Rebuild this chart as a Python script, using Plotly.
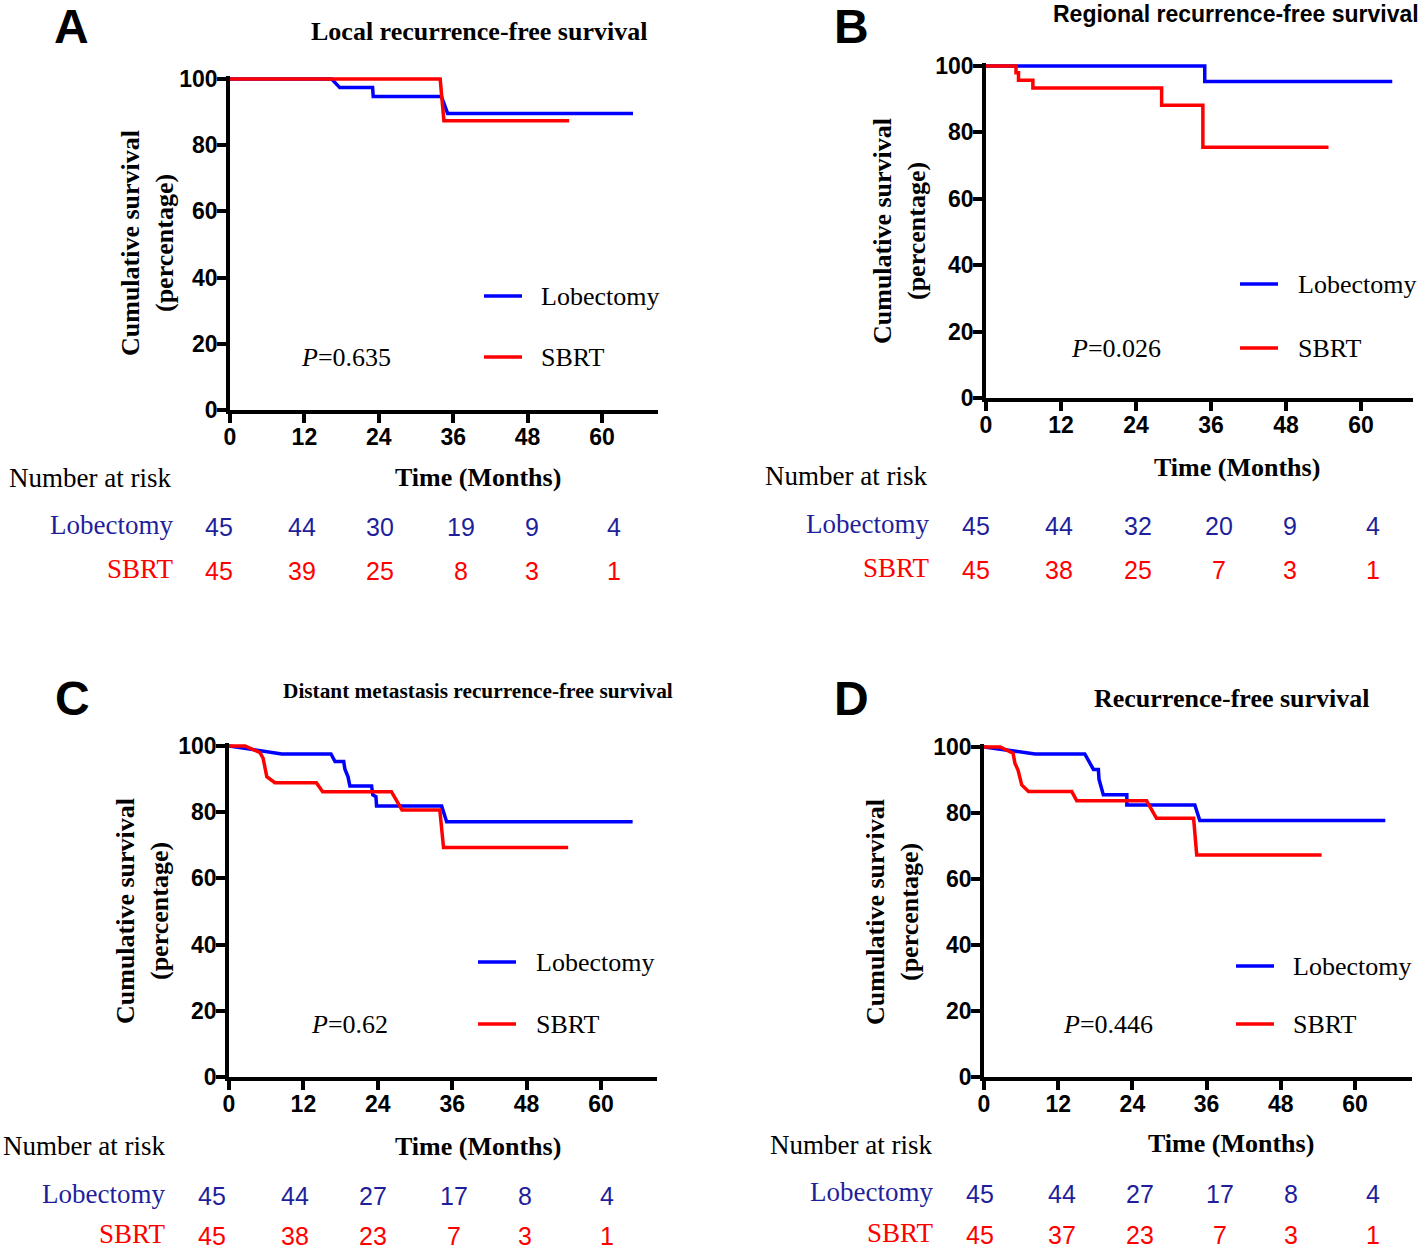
import plotly.graph_objects as go

W, H = 1418, 1251

# ---------------- DATA ----------------
panel_letters = ["A", "B", "C", "D"]
panel_titles = [
    "Local recurrence-free survival",
    "Regional recurrence-free survival",
    "Distant metastasis recurrence-free survival",
    "Recurrence-free survival",
]
p_values = ["0.635", "0.026", "0.62", "0.446"]
series_names = ["Lobectomy", "SBRT"]
x_ticks = [0, 12, 24, 36, 48, 60]
y_ticks = [0, 20, 40, 60, 80, 100]

# Kaplan-Meier curve vertices (months, % survival)
a_lob_t = [0, 16.4, 17.7, 23.0, 23.1, 34.1, 35.1, 65.0]
a_lob_s = [100, 100, 97.4, 97.4, 94.7, 94.7, 89.6, 89.6]
a_sbrt_t = [0, 33.9, 34.5, 54.7]
a_sbrt_s = [100, 100, 87.4, 87.4]

b_lob_t = [0, 35.0, 35.0, 65.0]
b_lob_s = [100, 100, 95.3, 95.3]
b_sbrt_t = [0, 4.8, 4.8, 5.2, 5.2, 7.5, 7.5, 28.1, 28.1, 34.7, 34.7, 54.8]
b_sbrt_s = [100, 100, 98.0, 98.0, 95.7, 95.7, 93.4, 93.4, 88.2, 88.2, 75.5, 75.5]

c_lob_t = [0, 8.5, 16.45, 17.1, 18.5, 18.7, 19.2, 19.5, 23.0, 23.2, 23.7, 23.8, 34.3, 35.1, 65.1]
c_lob_s = [100, 97.6, 97.6, 95.3, 95.3, 93.0, 90.7, 87.9, 87.9, 85.2, 84.7, 81.9, 81.9, 77.1, 77.1]
c_sbrt_t = [0, 2.6, 5.0, 5.5, 6.1, 7.4, 14.1, 15.1, 26.2, 27.9, 34.0, 34.6, 54.7]
c_sbrt_s = [100, 100, 98.0, 96.3, 90.7, 88.9, 88.9, 86.2, 86.2, 80.7, 80.7, 69.3, 69.3]

d_lob_t = [0, 8.25, 16.3, 17.7, 18.5, 18.6, 19.3, 23.1, 23.1, 34.1, 34.9, 64.9]
d_lob_s = [100, 97.9, 97.9, 93.2, 93.2, 90.2, 85.5, 85.5, 82.4, 82.4, 77.7, 77.7]
d_sbrt_t = [0, 2.6, 4.7, 5.0, 5.5, 6.1, 7.2, 14.2, 15.0, 26.3, 27.9, 33.9, 34.4, 54.6]
d_sbrt_s = [100, 100, 98.1, 95.1, 93.0, 88.5, 86.5, 86.5, 83.7, 83.7, 78.4, 78.4, 67.3, 67.3]

# Numbers at risk
a_risk_lob = [45, 44, 30, 19, 9, 4]
a_risk_sbrt = [45, 39, 25, 8, 3, 1]
b_risk_lob = [45, 44, 32, 20, 9, 4]
b_risk_sbrt = [45, 38, 25, 7, 3, 1]
c_risk_lob = [45, 44, 27, 17, 8, 4]
c_risk_sbrt = [45, 38, 23, 7, 3, 1]
d_risk_lob = [45, 44, 27, 17, 8, 4]
d_risk_sbrt = [45, 37, 23, 7, 3, 1]

curves = [
    ((a_lob_t, a_lob_s), (a_sbrt_t, a_sbrt_s)),
    ((b_lob_t, b_lob_s), (b_sbrt_t, b_sbrt_s)),
    ((c_lob_t, c_lob_s), (c_sbrt_t, c_sbrt_s)),
    ((d_lob_t, d_lob_s), (d_sbrt_t, d_sbrt_s)),
]
risks = [
    (a_risk_lob, a_risk_sbrt),
    (b_risk_lob, b_risk_sbrt),
    (c_risk_lob, c_risk_sbrt),
    (d_risk_lob, d_risk_sbrt),
]

# ---------------- LAYOUT (pixel geometry) ----------------
LOB_COLOR = "#0000ff"
SBRT_COLOR = "#ff0000"
LOB_TEXT = "#1f1f9c"
SERIF = "Liberation Serif"
SANS = "Liberation Sans"

geom = [
    dict(x0=230, x60=602, xend=658, ytop=79, ybot=410,
         letter=(71, 26), title=(479, 31, SERIF, 26),
         ytitle=(147, 243), xtitle=(478, 478),
         leg=(484, 522, 296, 357, 540), p=(300, 357),
         risk_hdr=(172, 478), risk_lbl=174, rows=(527, 571),
         cols=[219, 302, 380, 461, 532, 614]),
    dict(x0=986, x60=1361, xend=1413, ytop=66, ybot=398,
         letter=(852, 26), title=(1236, 14, SANS, 23),
         ytitle=(900, 231), xtitle=(1237, 467),
         leg=(1240, 1278, 284, 348, 1297), p=(1070, 348),
         risk_hdr=(928, 476), risk_lbl=930, rows=(526, 570),
         cols=[976, 1059, 1138, 1219, 1290, 1373]),
    dict(x0=229, x60=601, xend=657, ytop=746, ybot=1077,
         letter=(72, 698), title=(478, 691, SERIF, 21.3),
         ytitle=(143, 911), xtitle=(478, 1146),
         leg=(478, 516, 962, 1024, 535), p=(310, 1024),
         risk_hdr=(166, 1146), risk_lbl=166, rows=(1196, 1236),
         cols=[212, 295, 373, 454, 525, 607]),
    dict(x0=984, x60=1355, xend=1412, ytop=747, ybot=1077,
         letter=(852, 698), title=(1232, 698, SERIF, 26),
         ytitle=(892, 912), xtitle=(1231, 1143),
         leg=(1236, 1274, 966, 1024, 1292), p=(1062, 1024),
         risk_hdr=(933, 1145), risk_lbl=934, rows=(1194, 1235),
         cols=[980, 1062, 1140, 1220, 1291, 1373]),
]


def fx(x):
    return x / W


def fy(y):
    return 1 - y / H


def note(text, x, y, size, family=SERIF, color="black", xanchor="center", angle=0):
    return dict(text=text, x=fx(x), y=fy(y), xref="paper", yref="paper",
                showarrow=False, xanchor=xanchor, yanchor="middle", borderpad=0,
                textangle=angle, font=dict(family=family, size=size, color=color))


fig = go.Figure()
layout = dict(width=W, height=H,
              margin=dict(l=0, r=0, t=0, b=0, pad=0, autoexpand=False),
              plot_bgcolor="white", paper_bgcolor="white", showlegend=False)
annotations = []
shapes = []

YEXTRA = 0.9  # small headroom so the 100% line is not clipped

for i, g in enumerate(geom):
    n = "" if i == 0 else str(i + 1)
    xa, ya = "xaxis" + n, "yaxis" + n
    xr, yr = "x" + n, "y" + n
    ppm = (g["x60"] - g["x0"]) / 60.0
    xmax = (g["xend"] - g["x0"]) / ppm
    ppp = (g["ybot"] - g["ytop"]) / 100.0
    ytop_px = g["ytop"] - YEXTRA * ppp
    common = dict(showline=True, linewidth=3.5, linecolor="black", ticks="outside",
                  ticklen=9, tickwidth=3.5, tickcolor="black", showgrid=False,
                  zeroline=False, automargin=False, ticklabelstandoff=-5,
                  tickfont=dict(family=SANS, size=23, color="black", weight="bold"))
    layout[xa] = dict(domain=[fx(g["x0"]), fx(g["xend"])], range=[0, xmax],
                      anchor=yr, tickvals=x_ticks, **common)
    layout[ya] = dict(domain=[fy(g["ybot"]), fy(ytop_px)], range=[0, 100 + YEXTRA],
                      anchor=xr, tickvals=y_ticks, **common)
    (lt, ls), (st, ss) = curves[i]
    fig.add_trace(go.Scatter(x=lt, y=ls, mode="lines", xaxis=xr, yaxis=yr,
                             name=series_names[0],
                             line=dict(color=LOB_COLOR, width=3.5)))
    fig.add_trace(go.Scatter(x=st, y=ss, mode="lines", xaxis=xr, yaxis=yr,
                             name=series_names[1],
                             line=dict(color=SBRT_COLOR, width=3.5)))

    annotations.append(note("<b>%s</b>" % panel_letters[i], g["letter"][0],
                            g["letter"][1], 48, family=SANS))
    tx, ty, tf, ts = g["title"]
    annotations.append(note("<b>%s</b>" % panel_titles[i], tx, ty, ts, family=tf))
    annotations.append(note("<b>Cumulative survival</b><br><b>(percentage)</b>",
                            g["ytitle"][0], g["ytitle"][1], 26, angle=-90))
    annotations.append(note("<b>Time (Months)</b>", g["xtitle"][0], g["xtitle"][1], 26))
    lx0, lx1, ly1, ly2, ltx = g["leg"]
    for ly, col, name in ((ly1, LOB_COLOR, series_names[0]), (ly2, SBRT_COLOR, series_names[1])):
        shapes.append(dict(type="line", xref="paper", yref="paper",
                           x0=fx(lx0), x1=fx(lx1), y0=fy(ly), y1=fy(ly),
                           line=dict(color=col, width=3.5)))
        annotations.append(note(name, ltx, ly, 26, xanchor="left"))
    annotations.append(note("<i>P</i>=%s" % p_values[i], g["p"][0], g["p"][1], 26,
                            xanchor="left"))
    annotations.append(note("Number at risk", g["risk_hdr"][0], g["risk_hdr"][1], 27,
                            xanchor="right"))
    rl, rs = risks[i]
    for row_y, label, col, vals in ((g["rows"][0], series_names[0], LOB_TEXT, rl),
                                     (g["rows"][1], series_names[1], SBRT_COLOR, rs)):
        annotations.append(note(label, g["risk_lbl"], row_y - 2, 27, color=col,
                                xanchor="right"))
        for cx, v in zip(g["cols"], vals):
            annotations.append(note(str(v), cx, row_y, 25, family=SANS, color=col))

layout["annotations"] = annotations
layout["shapes"] = shapes
fig.update_layout(**layout)
fig.write_html(
    "out.html",
    config={"displayModeBar": False},
    post_script="document.body.style.margin='0px';document.body.style.padding='0px';"
                "document.body.style.overflow='hidden';",
)
